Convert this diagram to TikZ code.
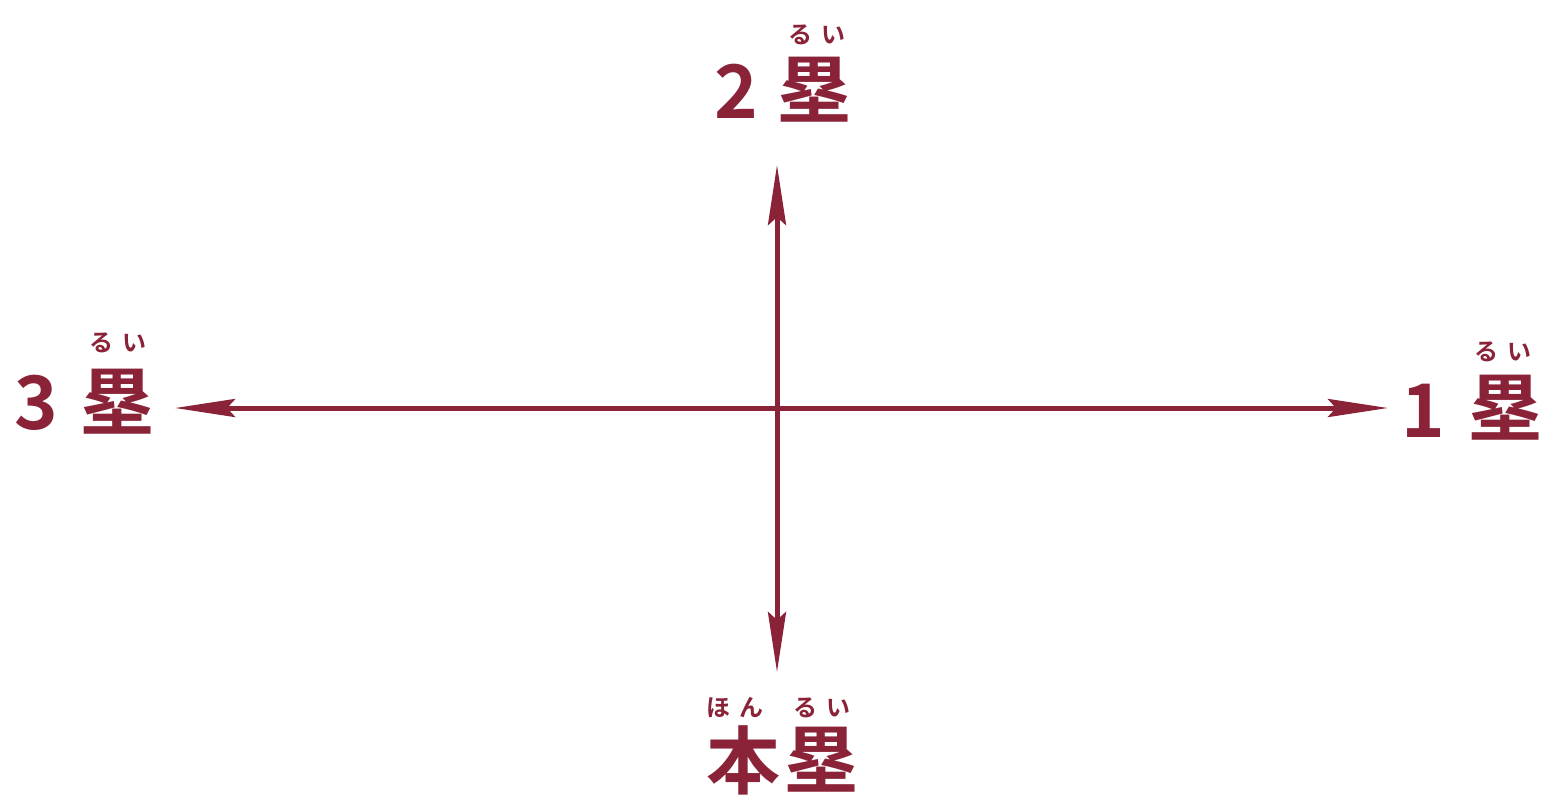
\documentclass[tikz,border=0pt]{standalone}
\usepackage{fontspec}
\newfontfamily\cjk{Noto Sans CJK JP}[BoldFont={Noto Sans CJK JP Bold}]
\usetikzlibrary{arrows.meta}
\definecolor{maroon}{HTML}{8A2338}
\tikzset{
  axis/.style={draw=maroon, line width=2.5pt, -{Stealth[length=30pt,width=9pt,inset=4pt]}},
  big/.style={text=maroon, inner sep=0pt, font=\cjk\bfseries\fontsize{37}{37}\selectfont},
  ruby/.style={text=maroon, inner sep=0pt, font=\cjk\bfseries\fontsize{12}{12}\selectfont},
}
\begin{document}
\begin{tikzpicture}[x=0.5pt,y=-0.5pt]
\useasboundingbox (0,0) rectangle (1548,794);
\fill[white] (0,0) rectangle (1548,794);
\coordinate (c) at (777,408);
\coordinate (t2) at (777,165);
\coordinate (th) at (777,672);
\coordinate (t3) at (175,408);
\coordinate (t1) at (1388,408);
\draw[axis] (c) -- (t2);
\draw[axis] (c) -- (th);
\draw[axis] (c) -- (t3);
\draw[axis] (c) -- (t1);
% 2nd base
\node[big] (d2) at (736,91) {2};
\node[big] (b2) at (814,90) {塁};
\node[ruby] (r2) at (817,35) {る\hspace{5pt}い};
% 3rd base
\node[big] (d3) at (36,403) {3};
\node[big] (b3) at (117,402) {塁};
\node[ruby] (r3) at (118,343) {る\hspace{5pt}い};
% 1st base
\node[big] (d1) at (1423,411) {1};
\node[big] (b1) at (1505,408) {塁};
\node[ruby] (r1) at (1503,352) {る\hspace{5pt}い};
% home
\node[big] (hh) at (743,760) {本};
\node[big] (bh) at (821,760) {塁};
\node[ruby] (rh1) at (735,708) {ほ\hspace{5pt}ん};
\node[ruby] (rh2) at (822,708) {る\hspace{5pt}い};
\end{tikzpicture}
\end{document}
